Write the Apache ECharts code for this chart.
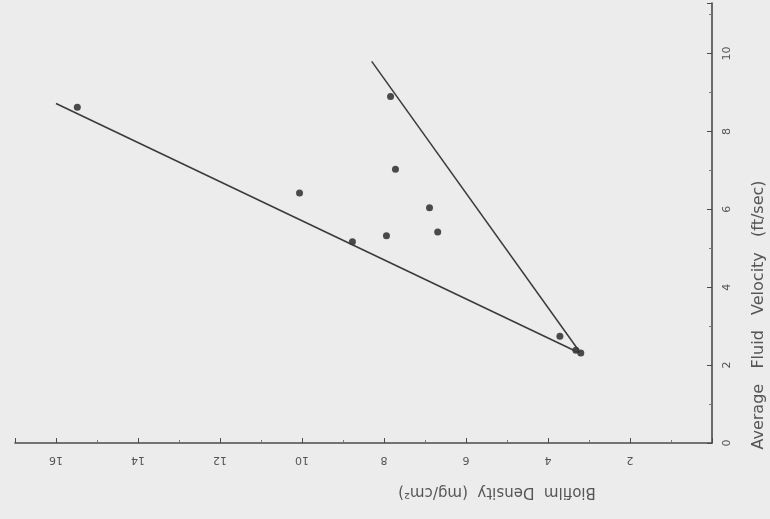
<!DOCTYPE html>
<html>
<head>
<meta charset="utf-8">
<script src="https://cdn.jsdelivr.net/npm/echarts@6/dist/echarts.min.js"></script>
<style>
html,body{margin:0;padding:0;background:#ececec;}
#chart{width:770px;height:519px;}
</style>
</head>
<body>
<div id="chart"></div>
<script>
// Biofilm density (mg/cm^2) and average fluid velocity (ft/sec)
var densityValues  = [15.48, 7.84, 10.06, 7.72, 8.77, 7.94, 6.89, 6.69, 3.71, 3.32, 3.20];
var velocityValues = [8.62, 8.90, 6.42, 7.03, 5.17, 5.32, 6.04, 5.42, 2.74, 2.38, 2.31];
// fitted lines: [density, velocity] endpoints
var lineA = [[16.0, 8.72], [3.27, 2.33]];
var lineB = [[8.30, 9.80], [3.22, 2.33]];
var densityTicks = [2, 4, 6, 8, 10, 12, 14, 16];
var velocityTicks = [0, 2, 4, 6, 8, 10];

var points = densityValues.map(function (d, i) { return [d, velocityValues[i]]; });
var ink = '#4a4a4a';
var chart = echarts.init(document.getElementById('chart'));
chart.setOption({
  backgroundColor: '#ececec',
  animation: false,
  grid: { left: 15, right: 58, top: 0, bottom: 76, containLabel: false },
  xAxis: {
    type: 'value', inverse: true, min: 0, max: 17, interval: 2, position: 'bottom',
    axisLine: { show: true, onZero: false, lineStyle: { color: ink, width: 1.6 } },
    axisTick: { show: true, inside: true, length: 5, lineStyle: { color: ink } },
    minorTick: { show: true, splitNumber: 2, length: 3, lineStyle: { color: '#777' } },
    splitLine: { show: false },
    axisLabel: {
      rotate: 180, margin: 11, color: '#555', fontSize: 11, fontFamily: 'DejaVu Sans',
      formatter: function (v) { return densityTicks.indexOf(v) >= 0 ? String(v) : ''; }
    }
  },
  yAxis: {
    type: 'value', min: 0, max: 11.3, interval: 2, position: 'right',
    axisLine: { show: true, onZero: false, lineStyle: { color: ink, width: 1.6 } },
    axisTick: { show: true, inside: true, length: 5, lineStyle: { color: ink } },
    minorTick: { show: true, splitNumber: 2, length: 3, lineStyle: { color: '#777' } },
    splitLine: { show: false },
    axisLabel: {
      rotate: 90, margin: 10, color: '#555', fontSize: 11, fontFamily: 'DejaVu Sans',
      formatter: function (v) { return velocityTicks.indexOf(v) >= 0 ? String(v) : ''; }
    }
  },
  graphic: [
    { type: 'text', x: 497, y: 492, rotation: Math.PI,
      style: { text: 'Biofilm  Density  (mg/cm\u00B2)', fill: '#555', font: '15px "DejaVu Sans"',
               textAlign: 'center', textVerticalAlign: 'middle' } },
    { type: 'text', x: 759, y: 315, rotation: Math.PI / 2,
      style: { text: 'Average   Fluid   Velocity   (ft/sec)', fill: '#555', font: '16px "DejaVu Sans"',
               textAlign: 'center', textVerticalAlign: 'middle' } }
  ],
  series: [
    { type: 'line', data: lineA, symbol: 'none', lineStyle: { color: '#3a3a3a', width: 1.5 }, silent: true },
    { type: 'line', data: lineB, symbol: 'none', lineStyle: { color: '#3a3a3a', width: 1.5 }, silent: true },
    { type: 'scatter', data: points, symbol: 'circle', symbolSize: 7,
      itemStyle: { color: '#222' } }
  ]
});
</script>
</body>
</html>
